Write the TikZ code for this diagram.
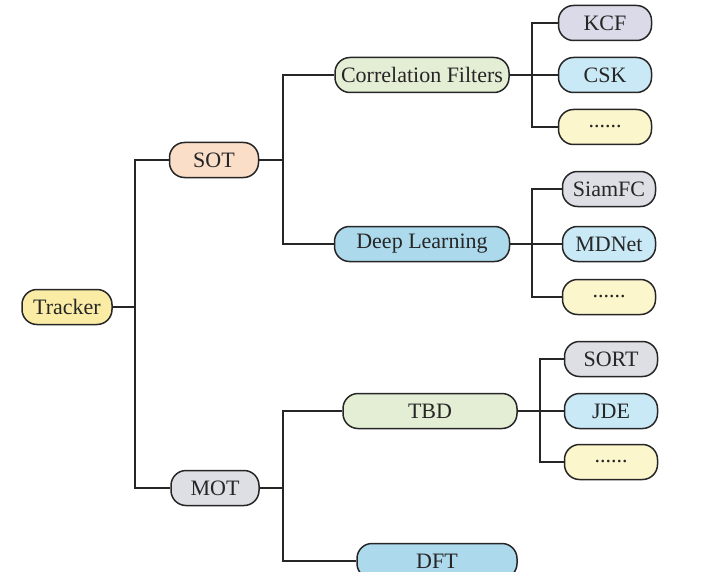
\documentclass[tikz,border=0pt]{standalone}
\usepackage{fontspec}
\setmainfont{Liberation Serif}
\usepackage{tikz}
\usetikzlibrary{positioning}
\usepackage{xcolor}

\definecolor{yelfill}{RGB}{250,236,165}
\definecolor{peachfill}{RGB}{250,222,200}
\definecolor{grayfill}{RGB}{222,223,229}
\definecolor{lavfill}{RGB}{218,218,232}
\definecolor{greenfill}{RGB}{228,238,212}
\definecolor{bluefill}{RGB}{172,217,235}
\definecolor{skyfill}{RGB}{202,233,246}
\definecolor{creamfill}{RGB}{252,246,205}
\definecolor{edge}{RGB}{38,38,38}

\begin{document}
\begin{tikzpicture}[
  x=1pt, y=-1pt,
  box/.style={draw=edge, line width=1.5pt, rounded corners=15pt, minimum height=35pt, inner sep=0pt, align=center, font=\fontsize{22}{26}\selectfont, text=black!85},
  leaf/.style={box, minimum width=93pt},
  link/.style={draw=edge, line width=1.2pt}
]
\clip (0,0) rectangle (703,572);
\node[box, fill=yelfill, minimum width=90pt] (tracker) at (67,307) {Tracker};
\node[box, fill=peachfill, minimum width=89pt] (sot) at (214,160) {SOT};
\node[box, fill=grayfill, minimum width=88pt] (mot) at (215,488) {MOT};
\node[box, fill=greenfill, minimum width=174pt] (corr) at (422,75) {Correlation Filters};
\node[box, fill=bluefill, minimum width=175pt] (deep) at (422,244) {Deep Learning};
\node[box, fill=greenfill, minimum width=174pt] (tbd) at (430,411) {TBD};
\node[box, fill=bluefill, minimum width=160pt] (dft) at (437,561) {DFT};
\node[leaf, fill=lavfill] (kcf) at (605,23) {KCF};
\node[leaf, fill=skyfill] (csk) at (605,75) {CSK};
\node[leaf, fill=creamfill] (cfmore) at (605,127) {......};
\node[leaf, fill=grayfill] (siam) at (609,189) {SiamFC};
\node[leaf, fill=skyfill] (mdnet) at (609,244) {MDNet};
\node[leaf, fill=creamfill] (dlmore) at (609,297) {......};
\node[leaf, fill=grayfill] (sort) at (611,359) {SORT};
\node[leaf, fill=skyfill] (jde) at (611,411) {JDE};
\node[leaf, fill=creamfill] (tbdmore) at (611,462) {......};

\coordinate (tj) at (135,307);
\coordinate (sj) at (283,160);
\coordinate (mj) at (283,488);
\coordinate (cj) at (532,75);
\coordinate (dj) at (532,244);
\coordinate (bj) at (540,411);

\draw[link] (tracker.east) -- (tj);
\draw[link] (sot.west) -| (tj) |- (mot.west);
\draw[link] (sot.east) -- (sj);
\draw[link] (corr.west) -| (sj) |- (deep.west);
\draw[link] (mot.east) -- (mj);
\draw[link] (tbd.west) -| (mj) |- (dft.west);
\draw[link] (corr.east) -- (csk.west);
\draw[link] (kcf.west) -| (cj) |- (cfmore.west);
\draw[link] (deep.east) -- (mdnet.west);
\draw[link] (siam.west) -| (dj) |- (dlmore.west);
\draw[link] (tbd.east) -- (jde.west);
\draw[link] (sort.west) -| (bj) |- (tbdmore.west);
\end{tikzpicture}
\end{document}
